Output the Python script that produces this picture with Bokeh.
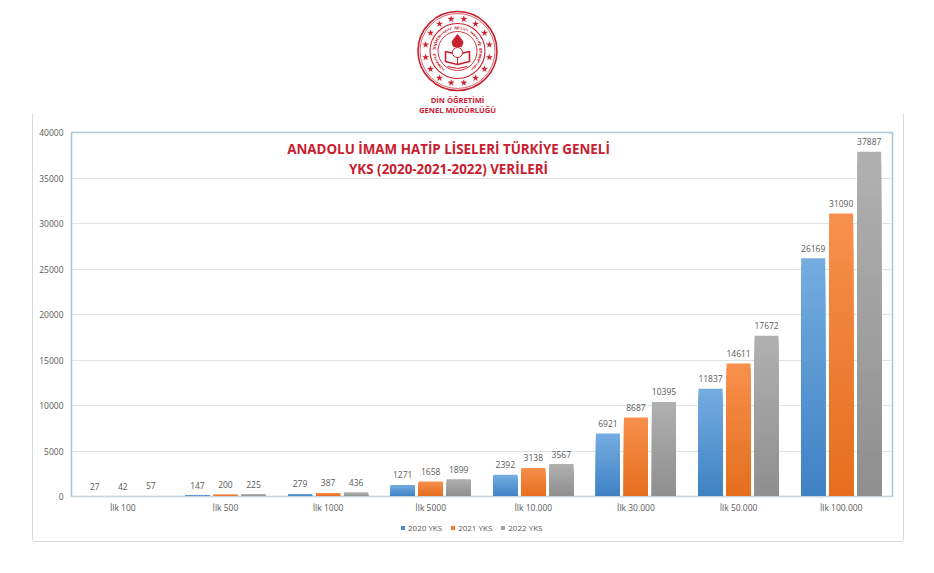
import math
from bokeh.core.properties import value
from bokeh.embed import file_html
from bokeh.resources import INLINE
from bokeh.layouts import column
from bokeh.models import (ColumnDataSource, FactorRange, Label,
                          Legend, LegendItem, Range1d, FixedTicker)
from bokeh.plotting import figure
from bokeh.transform import dodge

categories = ["İlk 100", "İlk 500", "İlk 1000", "İlk 5000", "İlk 10.000",
              "İlk 30.000", "İlk 50.000", "İlk 100.000"]
yks_2020 = [27, 147, 279, 1271, 2392, 6921, 11837, 26169]
yks_2021 = [42, 200, 387, 1658, 3138, 8687, 14611, 31090]
yks_2022 = [57, 225, 436, 1899, 3567, 10395, 17672, 37887]
series_names = ["2020 YKS", "2021 YKS", "2022 YKS"]
y_ticks = [0, 5000, 10000, 15000, 20000, 25000, 30000, 35000, 40000]
title_lines = ["ANADOLU İMAM HATİP LİSELERİ TÜRKİYE GENELİ",
               "YKS (2020-2021-2022) VERİLERİ"]
logo_lines = ["DİN ÖĞRETİMİ", "GENEL MÜDÜRLÜĞÜ"]
ring_text = "TÜRKİYE CUMHURİYETİ MİLLİ EĞİTİM BAKANLIĞI"

RED = "#c8202f"
FONT = "Open Sans"
TEXT = "#595959"

# ---------- logo ----------
logo = figure(width=918, height=105, output_backend="svg", toolbar_location=None,
              x_range=Range1d(8, 926), y_range=Range1d(113, 8),
              min_border=0, outline_line_color=None)
logo.axis.visible = False
logo.grid.visible = False
cx, cy = 457, 50.5
for r, w in [(39.5, 1.6), (37.5, 0.7), (27.5, 1.1), (19.5, 0.9)]:
    logo.circle(cx, cy, radius=r, fill_color=None, line_color=RED, line_width=w)
star_angles = [2 * math.pi * i / 16 + math.pi / 16 for i in range(16)]
logo.scatter([cx + 32.5 * math.sin(a) for a in star_angles],
             [cy - 32.5 * math.cos(a) for a in star_angles],
             marker="star", size=6.5, fill_color=RED, line_color=RED, line_width=0.3)
n = len(ring_text)
start, span = -2.45, 4.9
xs, ys, angs = [], [], []
for i in range(n):
    a = start + span * i / (n - 1)
    xs.append(cx + 23.2 * math.sin(a))
    ys.append(cy - 23.2 * math.cos(a))
    angs.append(a)
logo.text(xs, ys, text=list(ring_text), angle=angs, text_font=value(FONT), text_font_size="4px",
          text_font_style="bold", text_color=RED, text_align="center", text_baseline="middle")
# emblem: flame, book, crescent
logo.patch([457, 453, 451.5, 453, 461, 462.5, 461], [34, 39, 42, 46, 46, 42, 39],
           fill_color=RED, line_color=RED)
logo.patch([445, 457, 469, 469, 457, 445], [51, 54, 51, 61, 64, 61],
           fill_color=None, line_color=RED, line_width=1.6)
logo.line([457, 457], [54, 64], line_color=RED, line_width=1)
logo.circle(457, 52, radius=5, fill_color="white", line_color=RED, line_width=1)
logo.line([447, 457, 467], [66, 68, 66], line_color=RED, line_width=1)
logo.text([457, 457], [99, 109], text=logo_lines, text_font=value(FONT), text_font_size="7.6px",
          text_font_style="bold", text_color=RED, text_align="center", text_baseline="middle")

# ---------- chart ----------
src = ColumnDataSource(dict(cat=categories, a=yks_2020, b=yks_2021, c=yks_2022))
p = figure(width=870, height=402, output_backend="svg", toolbar_location=None,
           x_range=FactorRange(*categories), y_range=Range1d(0, 40000),
           min_border_left=38, min_border_right=11, min_border_top=19, min_border_bottom=19,
           outline_line_color="#a9c6d6", outline_line_width=1.5)
p.x_range.range_padding = 0
p.xgrid.visible = False
p.ygrid.grid_line_color = "#d9e3e8"
p.ygrid.ticker = FixedTicker(ticks=y_ticks)
p.yaxis.ticker = FixedTicker(ticks=y_ticks)
p.yaxis.axis_line_color = None
p.xaxis.axis_line_color = "#c9d3d8"
for ax in (p.xaxis[0], p.yaxis[0]):
    ax.major_tick_line_color = None
    ax.minor_tick_line_color = None
    ax.major_tick_out = 0
    ax.major_label_text_font = FONT
    ax.major_label_text_font_size = "8.5px"
    ax.major_label_text_color = TEXT
p.yaxis[0].major_label_standoff = 8
p.xaxis[0].major_label_standoff = 5
p.yaxis[0].formatter.use_scientific = False

offsets = [-0.273, 0, 0.273]
tops = ["#74ace0", "#f78f4c", "#b0b0b0"]
bots = ["#3f82c4", "#e56f1e", "#8f8f8f"]
swatches = ["#4a8fd0", "#ed7d31", "#a0a0a0"]
keys = ["a", "b", "c"]
values = [yks_2020, yks_2021, yks_2022]
STEPS = 30


def mix(c1, c2, t):
    ch = [int(c1[i:i + 2], 16) * (1 - t) + int(c2[i:i + 2], 16) * t for i in (1, 3, 5)]
    return "#%02x%02x%02x" % tuple(round(v) for v in ch)


for off, top, bot, key, vals in zip(offsets, tops, bots, keys, values):
    x = dodge("cat", off, range=p.x_range)
    p.vbar(x=x, top=key, width=0.234, bottom=0, source=src, fill_color=top, line_color=None)
    # top-to-bottom shading of each bar, layered from the bar's own value
    for s in range(1, STEPS):
        frac = 1 - s / STEPS
        shade = ColumnDataSource(dict(cat=categories, t=[v * frac for v in vals]))
        p.vbar(x=dodge("cat", off, range=p.x_range), top="t", width=0.234, bottom=0,
               source=shade, fill_color=mix(top, bot, s / (STEPS - 1)), line_color=None)
    p.text(x=x, y=key, text=key, source=src, y_offset=-6.5, text_font=value(FONT),
           text_font_size="8.5px", text_color=TEXT, text_align="center", text_baseline="bottom")

for line, yv in zip(title_lines, (38200, 36000)):
    p.add_layout(Label(x=377, x_units="screen", y=yv, text=line, text_font=FONT,
                       text_font_size="13.4px", text_font_style="bold", text_color=RED,
                       text_align="center", text_baseline="middle"))

# ---------- legend strip under the chart ----------
strip = figure(width=870, height=26, output_backend="svg", toolbar_location=None,
               x_range=Range1d(0, 1), y_range=Range1d(0, 1), min_border=0,
               outline_line_color=None)
strip.axis.visible = False
strip.grid.visible = False
items = []
for name, col in zip(series_names, swatches):
    # out-of-view key mark: a legend swatch needs a renderer with one row
    r = strip.vbar(x=[-1], top=[-1], bottom=[-2], width=0.1, fill_color=col, line_color=None)
    items.append(LegendItem(label=name, renderers=[r]))
legend = Legend(items=items, orientation="horizontal", location=(329, 8),
                glyph_width=5, glyph_height=5, label_height=10, label_text_font=FONT,
                label_text_font_size="8px", label_text_color=TEXT, border_line_color=None,
                background_fill_alpha=0, padding=0, margin=0, spacing=8, label_standoff=3)
strip.add_layout(legend, "center")

card = column(p, strip, spacing=0, margin=(0, 0, 0, 25),
              styles={"box-shadow": "-1px 0 0 #d8dcdf, 1px 0 0 #d8dcdf, 0 1px 0 #d8dcdf"})
page = column(logo, card, spacing=0, margin=(8, 0, 0, 8))
open("out.html", "w").write(file_html(page, INLINE))
